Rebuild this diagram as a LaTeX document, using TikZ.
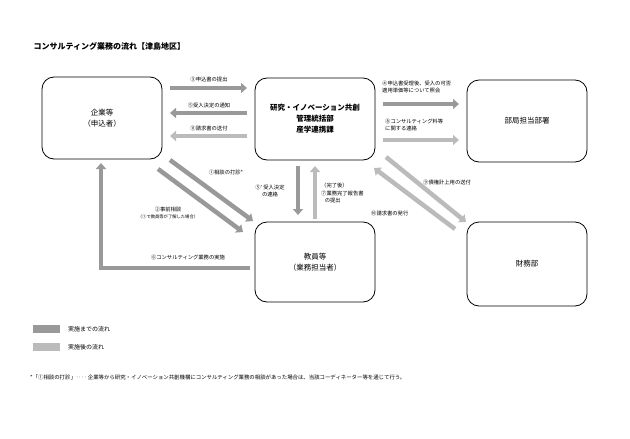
\documentclass[tikz,border=0pt]{standalone}
\usepackage{fontspec}
\setmainfont{Noto Sans CJK JP}
\usetikzlibrary{arrows.meta}
\definecolor{dk}{HTML}{999999}
\definecolor{lt}{HTML}{BBBBBB}
\tikzset{
 box/.style={draw,line width=0.8pt,rounded corners=12pt,minimum width=120pt,minimum height=82pt,align=center,font=\fontsize{7.5}{11}\selectfont},
 fat/.style={line width=4.5pt,-{Triangle[width=10pt,length=6pt]}},
 lab/.style={font=\fontsize{5.3}{7.5}\selectfont,align=left,inner sep=0pt},
}
\begin{document}
\begin{tikzpicture}[x=1pt,y=-1pt]
\useasboundingbox (0,0) rectangle (630,439);
\node[anchor=west,font=\fontsize{8}{10}\selectfont\bfseries] (title) at (30,46) {コンサルティング業務の流れ【津島地区】};
\node[box] (kig) at (102,118) {企業等\\（申込者）};
\node[box,font=\fontsize{7.5}{11}\selectfont\bfseries] (ken) at (315,119) {研究・イノベーション共創\\管理統括部\\産学連携課};
\node[box] (bk) at (527,121) {部局担当部署};
\node[box,minimum height=80pt] (kyo) at (315,262) {教員等\\（業務担当者）};
\node[box,minimum height=84pt] (zai) at (527,264) {財務部};
% row arrows
\coordinate (a3s) at (170,88); \coordinate (a3e) at (247,88);
\draw[fat,dk] (a3s) -- (a3e);
\node[lab] (l3) at (209,79) {③申込書の提出};
\coordinate (a5s) at (247,113); \coordinate (a5e) at (170,113);
\draw[fat,dk] (a5s) -- (a5e);
\node[lab] (l5) at (209,105) {⑤受入決定の通知};
\coordinate (a11s) at (247,136); \coordinate (a11e) at (170,136);
\draw[fat,lt] (a11s) -- (a11e);
\node[lab] (l11) at (209,128) {⑪請求書の送付};
\coordinate (a4s) at (383,104); \coordinate (a4e) at (459,104);
\draw[fat,dk] (a4s) -- (a4e);
\node[lab,anchor=west] (l4) at (382,87) {④申込書受理後、受入の可否\\適用単価等について照会};
\coordinate (a8s) at (383,140); \coordinate (a8e) at (459,140);
\draw[fat,lt] (a8s) -- (a8e);
\node[lab,anchor=west] (l8) at (385,125) {⑧コンサルティング料等\\に関する連絡};
% diagonals
\coordinate (a1s) at (170,160); \coordinate (a1e) at (253,221);
\draw[fat,dk] (a1s) -- (a1e);
\node[lab] (l1) at (226,172) {①相談の打診*};
\coordinate (a2s) at (158,169); \coordinate (a2e) at (243,232);
\draw[fat,dk] (a2s) -- (a2e);
\node[lab,align=center] (l2) at (168,213) {②事前相談\\{\fontsize{4.3}{6}\selectfont （①で教員等が了解した場合）}};
\coordinate (a6s) at (250,268); \coordinate (a6m) at (101,268); \coordinate (a6e) at (101,163);
\draw[fat,dk] (a6s) -- (a6m) -- (a6e);
\node[lab] (l6) at (188,257) {⑥コンサルティング業務の実施};
\coordinate (a5ps) at (298,166); \coordinate (a5pe) at (298,215);
\draw[fat,dk] (a5ps) -- (a5pe);
\node[lab,align=center] (l5p) at (270,191) {⑤' 受入決定\\の連絡};
\coordinate (a7s) at (315,219); \coordinate (a7e) at (315,166);
\draw[fat,lt] (a7s) -- (a7e);
\node[lab,anchor=west] (l7) at (321,193) {（完了後）\\⑦業務完了報告書\\\ \ \ の提出};
\coordinate (a9s) at (386,157); \coordinate (a9e) at (466,222);
\draw[fat,lt] (a9s) -- (a9e);
\node[lab,anchor=west] (l9) at (423,182) {⑨債権計上用の送付};
\coordinate (a10s) at (455,229); \coordinate (a10e) at (374,168);
\draw[fat,lt] (a10s) -- (a10e);
\node[lab,anchor=west] (l10) at (371,213) {⑩請求書の発行};
% legend
\fill[dk] (33,325) rectangle (60,333);
\node[lab,anchor=west,font=\fontsize{6}{8}\selectfont] (lg1) at (68,329) {実施までの流れ};
\fill[lt] (33,343) rectangle (60,351);
\node[lab,anchor=west,font=\fontsize{6}{8}\selectfont] (lg2) at (68,347) {実施後の流れ};
\node[lab,anchor=west,font=\fontsize{5.4}{7}\selectfont] (fn) at (30,377) {*「①相談の打診」‥‥ 企業等から研究・イノベーション共創機構にコンサルティング業務の相談があった場合は、当該コーディネーター等を通じて行う。};
\end{tikzpicture}
\end{document}
